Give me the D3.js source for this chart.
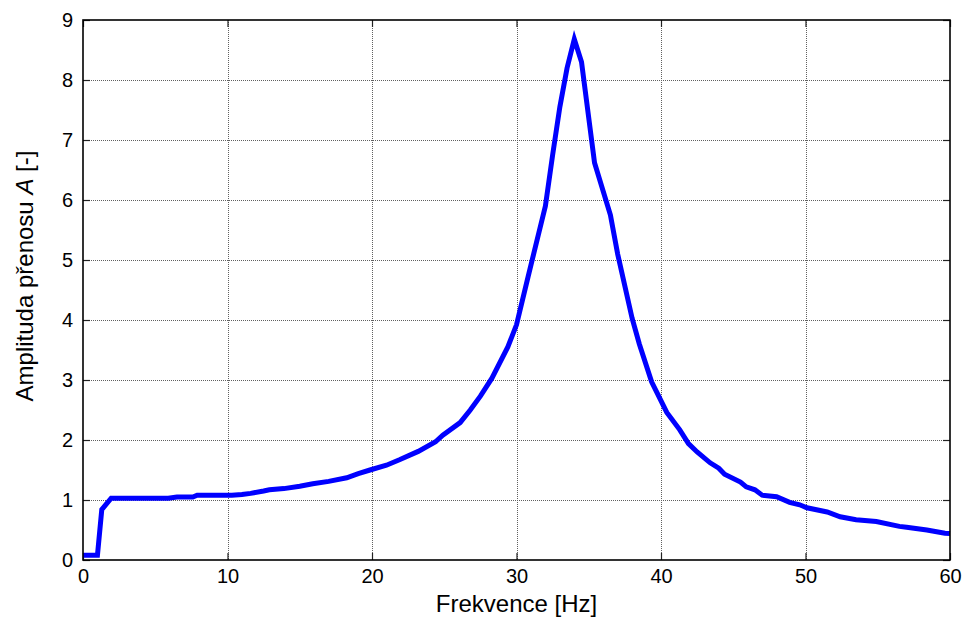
<!DOCTYPE html>
<html>
<head>
<meta charset="utf-8">
<script src="https://cdn.jsdelivr.net/npm/d3@7/dist/d3.min.js"></script>
<style>
  html, body { margin: 0; padding: 0; background: #fff; }
  svg { display: block; font-family: "Liberation Sans", Arial, Helvetica, sans-serif; }
</style>
</head>
<body>
<svg id="chart" width="964" height="620"></svg>
<script>
// Frequency response: transfer amplitude vs. frequency
const freq = [0, 1, 1.3, 1.95, 5.9, 6.5, 7.6, 7.9, 10.3, 11.0, 11.6, 12.5, 12.9, 13.9, 15.0, 15.9,
  17.0, 18.25, 19.05, 19.86, 21.0, 21.9, 23.2, 24.4, 24.9, 26.1, 26.8, 27.5, 28.3, 29.4, 30.0,
  30.8, 32.0, 32.5, 33.0, 33.5, 34.0, 34.5, 35.4, 36.5, 37.0, 38.0, 38.5, 39.35, 40.4, 41.3,
  41.9, 42.5, 43.4, 44.0, 44.4, 45.5, 45.9, 46.5, 47.0, 48.0, 48.9, 49.6, 50.1, 51.5, 52.4,
  53.5, 54.9, 56.5, 57.0, 58.4, 59.65, 60];
const amp = [0.08, 0.08, 0.84, 1.03, 1.03, 1.05, 1.05, 1.08, 1.08, 1.09, 1.11, 1.15, 1.17, 1.19, 1.23, 1.27,
  1.31, 1.37, 1.44, 1.5, 1.58, 1.67, 1.81, 1.97, 2.08, 2.29, 2.5, 2.73, 3.03, 3.55, 3.92,
  4.72, 5.9, 6.75, 7.55, 8.2, 8.68, 8.3, 6.62, 5.75, 5.1, 4.03, 3.6, 2.97, 2.46, 2.17,
  1.94, 1.8, 1.62, 1.53, 1.43, 1.3, 1.22, 1.17, 1.08, 1.055, 0.96, 0.92, 0.87, 0.8, 0.72,
  0.67, 0.64, 0.56, 0.545, 0.5, 0.445, 0.44];

const xTicks = [0, 10, 20, 30, 40, 50, 60];
const yTicks = [0, 1, 2, 3, 4, 5, 6, 7, 8, 9];
const xTitle = "Frekvence [Hz]";

const svg = d3.select("#chart");
const plotL = 83, plotR = 950, plotT = 20, plotB = 560;

const x = d3.scaleLinear().domain([0, 60]).range([plotL, plotR]);
const y = d3.scaleLinear().domain([0, 9]).range([plotB, plotT]);

// dotted grid
const grid = svg.append("g");
grid.selectAll("line.gx").data(xTicks.slice(1, -1)).join("line")
  .attr("x1", d => Math.round(x(d)) + 0.5).attr("x2", d => Math.round(x(d)) + 0.5)
  .attr("y1", plotT).attr("y2", plotB)
  .attr("stroke", "#606060").attr("stroke-width", 1).attr("stroke-dasharray", "1,1");
grid.selectAll("line.gy").data(yTicks.slice(1, -1)).join("line")
  .attr("y1", d => Math.round(y(d)) + 0.5).attr("y2", d => Math.round(y(d)) + 0.5)
  .attr("x1", plotL).attr("x2", plotR)
  .attr("stroke", "#606060").attr("stroke-width", 1).attr("stroke-dasharray", "1,1");

// axes with inward ticks
const tickLen = 7;
const xAxisB = d3.axisBottom(x).tickValues(xTicks).tickSizeInner(-tickLen).tickSizeOuter(0).tickPadding(9);
const xAxisT = d3.axisTop(x).tickValues(xTicks).tickSizeInner(-tickLen).tickSizeOuter(0).tickFormat("");
const yAxisL = d3.axisLeft(y).tickValues(yTicks).tickSizeInner(-tickLen).tickSizeOuter(0).tickPadding(10);
const yAxisR = d3.axisRight(y).tickValues(yTicks).tickSizeInner(-tickLen).tickSizeOuter(0).tickFormat("");

function styleAxis(g) {
  g.select(".domain").remove();
  g.selectAll(".tick line").attr("stroke", "#222").attr("stroke-width", 1.2);
  g.selectAll(".tick text").attr("fill", "#000").attr("font-size", 20)
    .attr("font-family", "'Liberation Sans', Arial, sans-serif");
}
svg.append("g").attr("transform", `translate(0,${plotB})`).call(xAxisB).call(styleAxis);
svg.append("g").attr("transform", `translate(0,${plotT})`).call(xAxisT).call(styleAxis);
svg.append("g").attr("transform", `translate(${plotL},0)`).call(yAxisL).call(styleAxis);
svg.append("g").attr("transform", `translate(${plotR},0)`).call(yAxisR).call(styleAxis);

// data line
const line = d3.line().x((d, i) => x(freq[i])).y(d => y(d));
svg.append("path").datum(amp)
  .attr("d", line)
  .attr("fill", "none").attr("stroke", "#0000ff").attr("stroke-width", 5)
  .attr("stroke-linejoin", "miter").attr("stroke-miterlimit", 10);

// frame
svg.append("rect").attr("x", plotL).attr("y", plotT)
  .attr("width", plotR - plotL).attr("height", plotB - plotT)
  .attr("fill", "none").attr("stroke", "#000").attr("stroke-width", 1.6);

// axis titles
svg.append("text").attr("x", (plotL + plotR) / 2).attr("y", 612)
  .attr("text-anchor", "middle").attr("font-size", 24).text(xTitle);

const yt = svg.append("text").attr("transform", "translate(33,276) rotate(-90)")
  .attr("text-anchor", "middle").attr("font-size", 24);
yt.append("tspan").text("Amplituda přenosu ");
yt.append("tspan").attr("font-style", "italic").text("A");
yt.append("tspan").text(" [-]");
</script>
</body>
</html>
